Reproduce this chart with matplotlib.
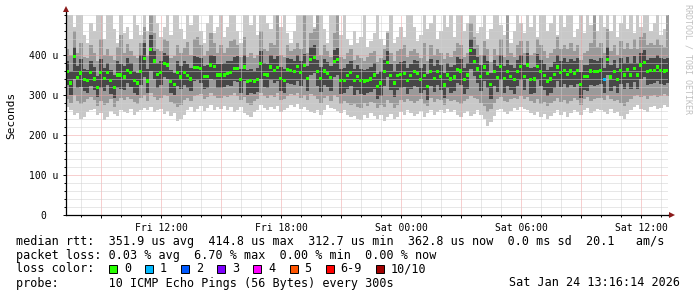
import numpy as np
import matplotlib
matplotlib.use("Agg")
import matplotlib.pyplot as plt
import matplotlib.dates as mdates
from matplotlib.ticker import FixedLocator, MultipleLocator, FuncFormatter
from matplotlib.patches import Rectangle
from datetime import datetime, timedelta

plt.rcParams['font.family'] = ['DejaVu Sans Mono', 'DejaVu Sans']

# 10 minute columns starting Fri Jan 23 2026 07:15, values in microseconds
start = datetime(2026, 1, 23, 7, 15)
end = datetime(2026, 1, 24, 13, 20)
step = timedelta(minutes=10)

median = [358, 330, 396, 344, 355, 339, 337, 356, 340, 319, 356, 341, 356, 336, 319, 350, 350, 345, 361, 356, 336, 330, 358,
          392, 335, 414, 385, 352, 356, 379, 375, 334, 327, 356, 345, 356, 348, 340, 369, 368, 367, 346, 347, 375, 372, 350,
          350, 350, 354, 356, 367, 367, 338, 370, 333, 337, 333, 338, 379, 352, 350, 370, 362, 369, 342, 336, 364, 362, 358,
          371, 356, 373, 342, 389, 394, 358, 342, 360, 354, 343, 383, 388, 337, 337, 348, 357, 337, 346, 336, 335, 337, 340,
          350, 322, 330, 358, 381, 348, 330, 348, 352, 354, 337, 349, 358, 354, 339, 348, 321, 358, 342, 358, 346, 325,
          350, 340, 345, 364, 360, 338, 350, 411, 384, 365, 346, 370, 354, 326, 358, 343, 371, 342, 358, 346, 338, 358, 371, 346,
          375, 338, 340, 372, 358, 348, 333, 340, 352, 370, 356, 362, 352, 360, 354, 362, 327, 346, 346, 360, 358, 358,
          362, 339, 389, 345, 358, 339, 362, 350, 364, 350, 367, 350, 375, 381, 358, 362, 362, 370, 362, 360, 362]

ping_min = [270, 262, 250, 255, 240, 245, 258, 262, 266, 250, 255, 238, 244, 260, 252, 248, 262, 258, 255, 265, 250, 258, 262,
            268, 262, 270, 258, 262, 266, 252, 260, 248, 255, 235, 240, 250, 262, 270, 258, 265, 272, 260, 268, 275, 262, 270,
            265, 272, 262, 270, 258, 262, 270, 255, 250, 245, 258, 262, 275, 268, 262, 270, 265, 272, 258, 262, 268, 275, 270,
            278, 265, 270, 262, 258, 255, 262, 250, 262, 275, 268, 265, 260, 255, 262, 250, 245, 248, 240, 238, 250, 242, 255,
            248, 240, 250, 235, 245, 252, 240, 246, 258, 250, 262, 255, 248, 252, 260, 245, 255, 262, 250, 258, 262, 255,
            265, 258, 262, 250, 245, 255, 260, 248, 252, 262, 250, 240, 222, 232, 248, 262, 265, 258, 252, 260, 268, 262, 270, 265,
            262, 255, 250, 258, 245, 252, 240, 248, 255, 262, 250, 258, 245, 255, 262, 258, 250, 262, 268, 255, 260, 265,
            262, 258, 252, 265, 255, 258, 248, 240, 252, 262, 270, 275, 265, 262, 258, 270, 272, 265, 268, 275, 270]

ping_max = [520, 520, 470, 520, 520, 450, 430, 480, 460, 520, 520, 440, 520, 520, 465, 430, 520, 455, 470, 440, 520, 475, 450,
            520, 460, 520, 520, 480, 445, 470, 520, 450, 520, 520, 465, 440, 520, 475, 520, 520, 460, 430, 480, 520, 455, 470,
            520, 445, 470, 520, 520, 460, 430, 520, 520, 475, 520, 450, 520, 520, 480, 465, 520, 440, 470, 520, 455, 430, 460,
            520, 520, 480, 520, 520, 470, 445, 520, 465, 430, 520, 520, 475, 450, 520, 440, 425, 460, 430, 445, 520, 420, 435,
            455, 520, 440, 425, 460, 520, 430, 445, 470, 445, 520, 520, 470, 435, 450, 520, 465, 480, 520, 440, 460, 520,
            470, 520, 445, 520, 520, 460, 480, 520, 520, 455, 470, 520, 440, 465, 520, 520, 475, 450, 520, 430, 460, 520, 480, 455,
            520, 470, 520, 445, 520, 520, 460, 480, 520, 450, 520, 470, 520, 520, 445, 465, 520, 455, 520, 475, 520, 460,
            520, 470, 520, 460, 520, 445, 480, 520, 465, 520, 455, 520, 470, 520, 520, 460, 480, 520, 450, 465, 440]

mid_lo = [290, 280, 300, 285, 278, 282, 290, 295, 288, 272, 285, 275, 280, 290, 270, 285, 292, 288, 295, 290, 282, 278, 292,
          300, 285, 305, 295, 288, 292, 300, 298, 282, 278, 270, 275, 288, 292, 285, 298, 300, 302, 290, 295, 305, 298, 292,
          292, 298, 295, 300, 305, 298, 288, 295, 280, 275, 285, 290, 305, 298, 292, 300, 295, 305, 288, 290, 298, 302, 300,
          305, 292, 300, 288, 302, 298, 290, 280, 292, 298, 285, 300, 295, 278, 285, 280, 275, 278, 270, 268, 280, 272, 282,
          280, 268, 275, 270, 288, 280, 268, 275, 288, 282, 290, 285, 280, 285, 290, 278, 272, 292, 282, 290, 288, 275,
          290, 285, 288, 282, 278, 285, 290, 298, 292, 290, 280, 272, 258, 265, 280, 290, 295, 285, 282, 290, 292, 290, 298, 290,
          295, 285, 280, 290, 278, 282, 272, 280, 285, 292, 282, 288, 278, 285, 292, 288, 275, 290, 295, 285, 290, 292,
          292, 288, 300, 290, 285, 288, 280, 272, 282, 290, 298, 300, 295, 298, 290, 298, 300, 295, 298, 302, 298]

mid_hi = [415, 400, 460, 405, 430, 395, 392, 425, 405, 385, 440, 400, 415, 398, 388, 420, 450, 405, 428, 410, 398, 392, 430,
          470, 398, 520, 455, 415, 410, 440, 435, 392, 398, 425, 405, 418, 432, 400, 440, 445, 425, 398, 410, 455, 430, 405,
          425, 405, 418, 435, 440, 425, 396, 445, 395, 405, 392, 400, 460, 415, 410, 430, 425, 520, 400, 396, 425, 410, 415,
          430, 415, 520, 405, 455, 465, 520, 400, 425, 410, 396, 455, 520, 396, 390, 405, 415, 388, 400, 392, 386, 396, 405,
          410, 382, 392, 415, 455, 405, 386, 410, 415, 425, 396, 410, 415, 405, 392, 430, 386, 425, 400, 415, 405, 390,
          405, 396, 410, 430, 425, 396, 405, 480, 445, 425, 400, 435, 415, 382, 415, 400, 440, 396, 520, 405, 396, 425, 435, 405,
          435, 400, 405, 440, 425, 410, 392, 405, 415, 445, 415, 425, 415, 430, 410, 425, 388, 405, 410, 430, 520, 420,
          430, 405, 465, 410, 425, 400, 435, 415, 430, 415, 440, 415, 445, 455, 425, 430, 425, 440, 425, 420, 520]

core_lo = [325, 300, 340, 318, 320, 310, 305, 322, 312, 295, 318, 310, 325, 302, 292, 318, 315, 312, 330, 320, 305, 300, 325,
           345, 305, 360, 340, 318, 325, 345, 340, 305, 300, 322, 315, 325, 318, 310, 335, 338, 330, 315, 318, 340, 338, 318,
           318, 320, 325, 322, 335, 332, 305, 335, 300, 305, 302, 308, 340, 320, 318, 338, 330, 335, 310, 305, 330, 328, 325,
           335, 322, 338, 310, 350, 355, 322, 308, 325, 320, 310, 345, 350, 302, 305, 315, 322, 300, 312, 302, 300, 305, 308,
           315, 290, 298, 322, 345, 312, 295, 312, 318, 320, 302, 315, 322, 320, 305, 312, 288, 322, 308, 325, 312, 292,
           318, 305, 310, 330, 325, 302, 315, 365, 348, 330, 310, 335, 318, 290, 322, 308, 338, 306, 322, 312, 302, 322, 338, 312,
           340, 302, 305, 338, 322, 312, 298, 305, 318, 335, 320, 328, 318, 325, 320, 328, 292, 312, 310, 325, 322, 325,
           328, 305, 350, 310, 322, 305, 328, 315, 330, 315, 332, 316, 340, 345, 325, 328, 330, 335, 328, 326, 330]

core_hi = [385, 360, 420, 372, 390, 365, 362, 385, 370, 348, 390, 368, 380, 362, 350, 385, 378, 372, 392, 380, 360, 355, 400,
           430, 365, 450, 410, 380, 385, 405, 400, 362, 355, 385, 372, 385, 378, 368, 398, 395, 392, 372, 375, 400, 398, 378,
           378, 380, 385, 385, 395, 398, 365, 400, 362, 365, 360, 368, 410, 380, 378, 400, 390, 398, 370, 365, 392, 390, 385,
           400, 385, 402, 372, 420, 425, 388, 370, 390, 382, 372, 412, 418, 365, 368, 378, 385, 365, 375, 365, 362, 366, 370,
           380, 352, 360, 388, 410, 378, 360, 378, 382, 385, 368, 378, 388, 385, 368, 378, 352, 390, 372, 388, 375, 355,
           380, 370, 375, 395, 390, 368, 380, 440, 415, 395, 375, 400, 385, 355, 388, 372, 400, 372, 388, 375, 368, 388, 400, 375,
           405, 368, 370, 402, 388, 378, 362, 370, 382, 400, 385, 392, 382, 390, 385, 392, 358, 376, 375, 390, 388, 386,
           392, 368, 420, 375, 388, 368, 392, 380, 395, 380, 398, 380, 405, 412, 388, 392, 392, 400, 392, 390, 392]

# columns where pings were lost (index, lost count)
loss_at = [161]
loss_n = [1]

yticks = [0, 100, 200, 300, 400]
ytick_labels = ['0  ', '100 u', '200 u', '300 u', '400 u']

loss_labels = ['0', '1', '2', '3', '4', '5', '6-9', '10/10']
loss_colors = ['#26ff00', '#00b8ff', '#0059ff', '#7e00ff', '#ff00ff', '#ff5500', '#ff0000', '#a10000']

rtt_line = "median rtt:  351.9 us avg  414.8 us max  312.7 us min  362.8 us now  0.0 ms sd  20.1   am/s"
loss_line = "packet loss: 0.03 % avg  6.70 % max  0.00 % min  0.00 % now"
probe_line = "probe:       10 ICMP Echo Pings (56 Bytes) every 300s"
stamp = "Sat Jan 24 13:16:14 2026"

n = min(len(median), len(ping_min), len(ping_max), len(mid_lo), len(mid_hi), len(core_lo), len(core_hi))
x = mdates.date2num([start + i * step for i in range(n)])
w = step.total_seconds() / 86400.0
xs = np.append(x, x[-1] + w)

W, H = 697, 297
fig = plt.figure(figsize=(W / 100, H / 100), dpi=100)
hours = (end - start).total_seconds() / 3600.0
ax = fig.add_axes([66 / W, 82 / H, hours * 20 / W, 200 / H])


def band(lo, hi, color):
    lo = np.array(lo[:n], float)
    hi = np.array(hi[:n], float)
    ax.fill_between(xs, np.append(lo, lo[-1]), np.append(hi, hi[-1]), step='post',
                    color=color, linewidth=0, zorder=1)


band(ping_min, ping_max, '#c8c8c8')
band(mid_lo, mid_hi, '#9a9a9a')
band(core_lo, core_hi, '#474747')

med = np.array(median[:n], float)
mcol = [loss_colors[0]] * n
for i, c in zip(loss_at, loss_n):
    if i < n:
        mcol[i] = loss_colors[c]
ax.bar(x, 8, bottom=med - 4, width=w * 0.9, align='edge', color=mcol, linewidth=0, zorder=3)

ax.set_xlim(mdates.date2num(start), mdates.date2num(end))
ax.set_ylim(0, 500)

ax.yaxis.set_major_locator(FixedLocator(yticks))
ax.yaxis.set_minor_locator(MultipleLocator(20))
ax.set_yticklabels(ytick_labels)
ax.xaxis.set_major_locator(mdates.HourLocator(byhour=range(0, 24, 3)))
ax.xaxis.set_minor_locator(mdates.HourLocator())


def xfmt(v, pos):
    d = mdates.num2date(v)
    return d.strftime('%a %H:%M') if d.hour % 6 == 0 else ''


ax.xaxis.set_major_formatter(FuncFormatter(xfmt))

ax.set_axisbelow(False)
ax.grid(which='minor', color='#d0d0d0', linestyle=(0, (1, 1)), linewidth=0.72)
ax.grid(which='major', color='#f0a0a0', linestyle=(0, (1, 1)), linewidth=0.72)

for s in ['top', 'right']:
    ax.spines[s].set_visible(False)
for s in ['left', 'bottom']:
    ax.spines[s].set_color('black')
    ax.spines[s].set_linewidth(0.9)
    ax.spines[s].set_zorder(4)

ax.tick_params(which='both', labelsize=7, colors='black', width=0.7)
ax.tick_params(which='major', length=2.5)
ax.tick_params(which='minor', length=1.5)
ax.tick_params(axis='y', pad=3)
ax.tick_params(axis='x', pad=3)

# axis extensions with arrow heads
ax.plot([0, 0], [1, 1.03], color='black', lw=0.9, transform=ax.transAxes, clip_on=False)
ax.plot([1, 1.006], [0, 0], color='black', lw=0.9, transform=ax.transAxes, clip_on=False)
ax.plot(0, 1.03, marker='^', ms=4, color='#8b1a1a', mew=0, transform=ax.transAxes, clip_on=False)
ax.plot(1.008, 0, marker='>', ms=4, color='#8b1a1a', mew=0, transform=ax.transAxes, clip_on=False)

fig.text(11 / W, 1 - 115 / H, 'Seconds', rotation=90, fontsize=8, ha='center', va='center')
fig.text(688 / W, 1 - 4 / H, 'RRDTOOL / TOBI OETIKER', rotation=270, fontsize=6,
         color='#c0c0c0', ha='center', va='top')

fs = 8.5
fig.text(16 / W, 1 - 241 / H, rtt_line, fontsize=fs, ha='left', va='center')
fig.text(16 / W, 1 - 255 / H, loss_line, fontsize=fs, ha='left', va='center')
fig.text(16 / W, 1 - 269 / H, 'loss color:', fontsize=fs, ha='left', va='center')
fig.text(16 / W, 1 - 283 / H, probe_line, fontsize=fs, ha='left', va='center')
fig.text(680 / W, 1 - 283 / H, stamp, fontsize=fs, ha='right', va='center')

cw = 7.1
bx = 109
for lab, col in zip(loss_labels, loss_colors):
    fig.patches.append(Rectangle((bx / W, (H - 273) / H), 8 / W, 8 / H, transform=fig.transFigure,
                                 facecolor=col, edgecolor='black', linewidth=0.7))
    fig.text((bx + 15) / W, 1 - 269 / H, lab, fontsize=fs, ha='left', va='center')
    bx = bx + 15 + len(lab) * cw + 14

fig.savefig('out.png', dpi=100)
